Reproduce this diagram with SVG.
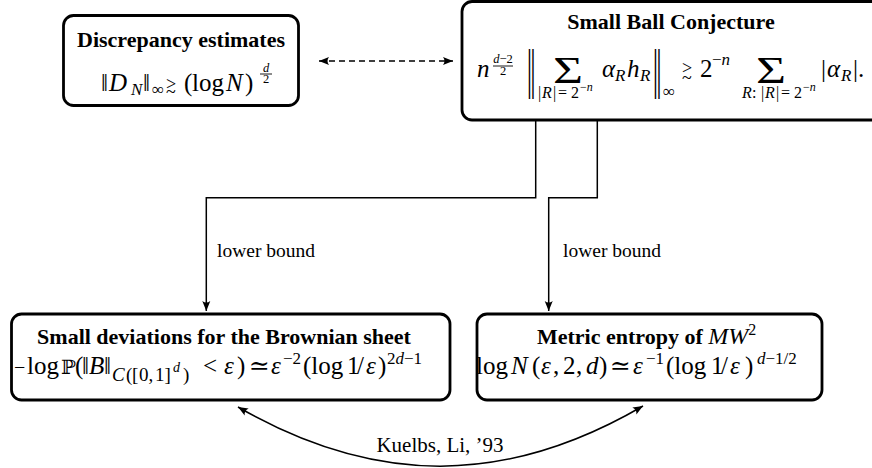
<svg xmlns="http://www.w3.org/2000/svg" width="872" height="468" viewBox="0 0 872 468">
<style>
.box{fill:#fff;stroke:#000;stroke-width:2.8}
.title{font-family:"Liberation Serif","DejaVu Serif",serif;font-weight:bold;font-size:22px;text-anchor:middle;fill:#000}
.m{font-family:"Liberation Serif","DejaVu Serif","DejaVu Sans",serif;font-size:25px;fill:#000}
.i{font-style:italic}
.s{font-size:17px}
.ss{font-size:12.5px}
.rel{font-size:18px}
.bar{font-size:54px;text-anchor:middle}
.lbl{font-family:"Liberation Serif","DejaVu Serif",serif;font-size:19.5px;fill:#000}
.conn{fill:none;stroke:#000;stroke-width:1.5}
.dash{stroke-dasharray:6 4}
</style>
<defs>
<marker id="arr" viewBox="-11 -5 12 10" refX="0" refY="0" markerWidth="12" markerHeight="10" markerUnits="userSpaceOnUse" orient="auto-start-reverse">
<path d="M0,0 L-10,-4 Q-7,0 -10,4 Z" fill="#000"/>
</marker>
</defs>

<g id="connectors">
<path class="conn dash" d="M319,61 H453" marker-start="url(#arr)" marker-end="url(#arr)"/>
<path class="conn" d="M535.7,120 V197.7 H206.3 V311" marker-end="url(#arr)"/>
<path class="conn" d="M597.3,120 V197.7 H548.7 V311" marker-end="url(#arr)"/>
<path class="conn" d="M238,407 C375,486 506,486 643,406" marker-start="url(#arr)" marker-end="url(#arr)"/>
<text class="lbl" x="217" y="257">lower bound</text>
<text class="lbl" x="563" y="257">lower bound</text>
<text class="lbl" x="440" y="452" text-anchor="middle" style="font-size:21px">Kuelbs, Li, ’93</text>
</g>

<g id="discrepancy">
<rect class="box" x="63.5" y="15.5" width="235" height="90" rx="10"/>
<text class="title" x="181" y="47">Discrepancy estimates</text>
<text class="m">
<tspan x="101" y="91">‖</tspan><tspan class="i" x="109" y="91">D</tspan><tspan class="i s" x="131" y="95">N</tspan><tspan x="143" y="91">‖</tspan><tspan class="s" x="152" y="95">∞</tspan><tspan x="184" y="91">(</tspan><tspan x="192" y="91">log</tspan><tspan class="i" x="226" y="91">N</tspan><tspan x="245" y="91">)</tspan>
</text>
<text class="m rel" x="166" y="90">&gt;</text>
<text class="m rel" x="166" y="98">~</text>
<text class="m ss i" x="266" y="72" text-anchor="middle">d</text>
<line x1="260" y1="74" x2="272" y2="74" stroke="#000" stroke-width="0.9"/>
<text class="m ss" x="266" y="83" text-anchor="middle">2</text>
</g>

<g id="smallball">
<rect class="box" x="462" y="1.5" width="420" height="118.5" rx="10"/>
<text class="title" x="671" y="29">Small Ball Conjecture</text>
<text class="m i" x="477" y="77">n</text>
<text class="m ss" x="503" y="63" text-anchor="middle"><tspan class="i">d</tspan>−2</text>
<line x1="493" y1="66" x2="513" y2="66" stroke="#000" stroke-width="0.9"/>
<text class="m ss" x="503" y="75" text-anchor="middle">2</text>
<text class="m bar" transform="translate(529.5,87) scale(0.5,1)">|</text>
<text class="m bar" transform="translate(533,87) scale(0.5,1)">|</text>
<text class="m" x="553" y="83" style="font-size:38px" textLength="30" lengthAdjust="spacingAndGlyphs">Σ</text>
<text class="m" style="font-size:16px" y="98"><tspan x="538">|</tspan><tspan class="i" x="542">R</tspan><tspan x="553">|</tspan><tspan x="558">=</tspan><tspan x="571">2</tspan><tspan style="font-size:12px" x="580" y="91">−</tspan><tspan class="i" style="font-size:12px" y="91">n</tspan></text>
<text class="m" y="77"><tspan class="i" x="602">α</tspan><tspan class="i s" x="615" y="81">R</tspan><tspan class="i" x="627" y="77">h</tspan><tspan class="i s" x="640" y="81">R</tspan></text>
<text class="m bar" transform="translate(655.5,87) scale(0.5,1)">|</text>
<text class="m bar" transform="translate(659,87) scale(0.5,1)">|</text>
<text class="m s" x="663" y="97">∞</text>
<text class="m rel" x="682" y="74">&gt;</text>
<text class="m rel" x="682" y="84">~</text>
<text class="m" y="77"><tspan x="700">2</tspan><tspan class="s" x="712" y="65">−</tspan><tspan class="s i" y="65">n</tspan></text>
<text class="m" x="756" y="83" style="font-size:38px" textLength="30" lengthAdjust="spacingAndGlyphs">Σ</text>
<text class="m" style="font-size:16px" y="98"><tspan class="i" x="742">R</tspan><tspan x="752">:</tspan><tspan x="761">|</tspan><tspan class="i" x="765">R</tspan><tspan x="776">|</tspan><tspan x="781">=</tspan><tspan x="794">2</tspan><tspan style="font-size:12px" x="803" y="91">−</tspan><tspan class="i" style="font-size:12px" y="91">n</tspan></text>
<text class="m" y="77"><tspan x="821">|</tspan><tspan class="i" x="827">α</tspan><tspan class="i s" x="841" y="81">R</tspan><tspan x="853" y="77">|.</tspan></text>
</g>

<g id="smalldev">
<rect class="box" x="11.5" y="314" width="438.5" height="86" rx="10"/>
<text class="title" x="224" y="344">Small deviations for the Brownian sheet</text>
<text class="m" y="374">
<tspan x="14" style="font-size:20px">−</tspan><tspan x="27">log</tspan><tspan x="61" style="font-size:20px">ℙ</tspan><tspan x="75">(</tspan><tspan x="82">‖</tspan><tspan class="i" x="89">B</tspan><tspan x="104">‖</tspan><tspan class="i" style="font-size:19px" x="112" y="381">C</tspan><tspan style="font-size:19px" x="126" y="381">(</tspan><tspan style="font-size:19px" x="132" y="381">[</tspan><tspan style="font-size:19px" x="139" y="381">0,</tspan><tspan style="font-size:19px" x="155" y="381">1]</tspan><tspan style="font-size:14px;font-style:italic" x="173" y="372">d</tspan><tspan style="font-size:19px" x="183" y="381">)</tspan><tspan x="203" y="374">&lt;</tspan><tspan class="i" x="224">ε</tspan><tspan x="237">)</tspan><tspan x="249">≃</tspan><tspan class="i" x="271">ε</tspan><tspan class="s" x="283" y="364">−2</tspan><tspan x="303" y="374">(log</tspan><tspan x="347">1</tspan><tspan x="357">/</tspan><tspan class="i" x="366">ε</tspan><tspan x="378">)</tspan><tspan class="s" x="387" y="364">2</tspan><tspan class="s i" y="364">d</tspan><tspan class="s" y="364">−1</tspan>
</text>
</g>

<g id="metric">
<rect class="box" x="477" y="314" width="345" height="86" rx="10"/>
<text class="title" x="537" y="344" style="text-anchor:start">Metric entropy of <tspan class="i" style="font-weight:normal;font-size:24px">MW</tspan><tspan style="font-weight:normal;font-size:16px" dy="-9">2</tspan></text>
<text class="m" y="374">
<tspan x="476">log</tspan><tspan class="i" x="511">N</tspan><tspan x="532">(</tspan><tspan class="i" x="541">ε</tspan><tspan x="553">,</tspan><tspan x="563">2</tspan><tspan x="576">,</tspan><tspan class="i" x="586">d</tspan><tspan x="599">)</tspan><tspan x="610">≃</tspan><tspan class="i" x="633">ε</tspan><tspan class="s" x="646" y="364">−1</tspan><tspan x="666" y="374">(log</tspan><tspan x="711">1</tspan><tspan x="721">/</tspan><tspan class="i" x="730">ε</tspan><tspan x="745">)</tspan><tspan class="s i" x="757" y="364">d</tspan><tspan class="s" y="364">−1/2</tspan>
</text>
</g>
</svg>
